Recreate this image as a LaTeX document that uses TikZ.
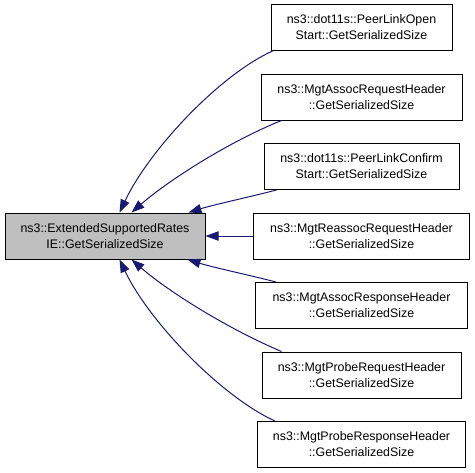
\documentclass[tikz,border=0pt]{standalone}
\usepackage{fontspec}
\setmainfont{Liberation Sans}
\usetikzlibrary{arrows.meta,calc}
\definecolor{edgeblue}{HTML}{191970}
\definecolor{boxgray}{HTML}{BFBFBF}
\begin{document}
\begin{tikzpicture}[x=0.75pt,y=-0.75pt,
  box/.style={draw=black,line width=0.75pt,fill=white,align=center,inner sep=0pt,
    minimum height=34.5pt,font=\fontsize{9.3}{12}\selectfont},
  focus/.style={box,fill=boxgray},
  edge/.style={draw=edgeblue,line width=0.75pt,-{Triangle[length=9.75pt,width=7pt]}}]
\useasboundingbox (0,0) rectangle (475,472);
\node[focus,minimum width=150pt] (L) at (105,236) {ns3::ExtendedSupportedRates\\IE::GetSerializedSize};
\node[box,minimum width=135.75pt] (n1) at (361.5,27.5) {ns3::dot11s::PeerLinkOpen\\Start::GetSerializedSize};
\node[box,minimum width=150.75pt] (n2) at (361.5,97) {ns3::MgtAssocRequestHeader\\::GetSerializedSize};
\node[box,minimum width=146.25pt] (n3) at (361.5,166.5) {ns3::dot11s::PeerLinkConfirm\\Start::GetSerializedSize};
\node[box,minimum width=162pt] (n4) at (361.5,236) {ns3::MgtReassocRequestHeader\\::GetSerializedSize};
\node[box,minimum width=159pt] (n5) at (361.5,305.5) {ns3::MgtAssocResponseHeader\\::GetSerializedSize};
\node[box,minimum width=149.25pt] (n6) at (361.5,375) {ns3::MgtProbeRequestHeader\\::GetSerializedSize};
\node[box,minimum width=156pt] (n7) at (361.5,444.5) {ns3::MgtProbeResponseHeader\\::GetSerializedSize};
\draw[edge] ($(n1.south west)+(2,0)$) .. controls +(-53,24) and +(30,-63) .. ($(L.north west)+(115,0)$);
\draw[edge] ($(n2.south west)+(21,0)$) .. controls +(-52,21) and +(38,-33) .. ($(L.north west)+(127,0)$);
\draw[edge] ($(n3.south west)+(13,0)$) .. controls +(-27,7) and +(26,-8) .. ($(L.north west)+(184,0)$);
\draw[edge] (n4.west) -- (L.east);
\draw[edge] ($(n5.north west)+(21,0)$) .. controls +(-27,-7) and +(26,8) .. ($(L.south west)+(183,0)$);
\draw[edge] ($(n6.north west)+(20,0)$) .. controls +(-52,-22) and +(38,33) .. ($(L.south west)+(127,0)$);
\draw[edge] ($(n7.north west)+(18,0)$) .. controls +(-53,-24) and +(30,63) .. ($(L.south west)+(115,0)$);
\end{tikzpicture}
\end{document}
